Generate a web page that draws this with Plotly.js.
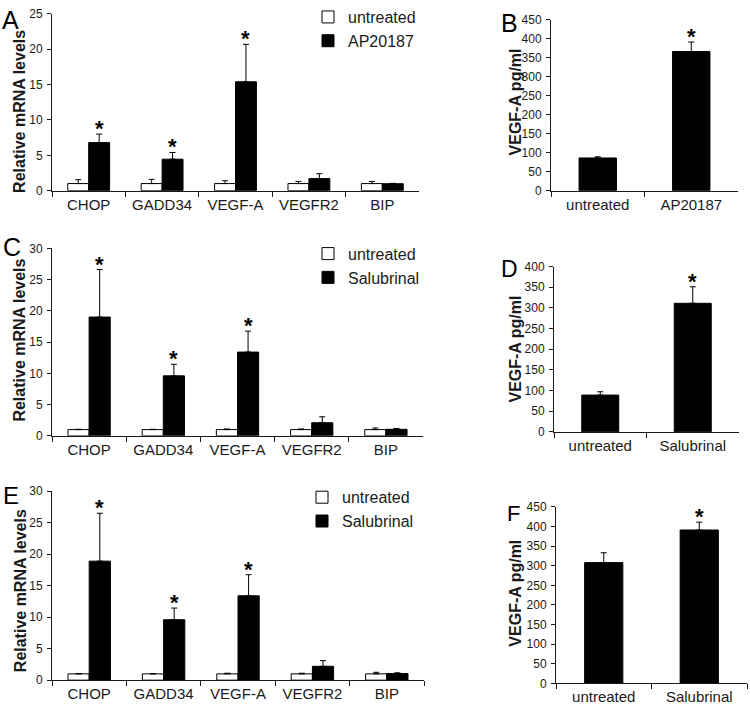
<!DOCTYPE html>
<html>
<head>
<meta charset="utf-8">
<script src="https://cdn.plot.ly/plotly-3.0.1.min.js"></script>
<style>html,body{margin:0;padding:0;background:#fff;}#chart{width:750px;height:710px;}</style>
</head>
<body>
<div id="chart"></div>
<script>
// ---------- DATA ----------
const mrnaCategories = ['CHOP', 'GADD34', 'VEGF-A', 'VEGFR2', 'BIP'];

// Panel A (AP20187)
const A_untreated     = [1, 1, 1, 1, 1];
const A_untreatedErr  = [0.55, 0.6, 0.4, 0.3, 0.3];
const A_treated       = [6.8, 4.45, 15.4, 1.7, 0.98];
const A_treatedErr    = [1.2, 0.95, 5.3, 0.7, 0.05];
const A_significant   = [true, true, true, false, false];

// Panel C (Salubrinal)
const C_untreated     = [1, 1, 1, 1, 1];
const C_untreatedErr  = [0.05, 0.05, 0.1, 0.1, 0.25];
const C_treated       = [19, 9.6, 13.4, 2.1, 1.05];
const C_treatedErr    = [7.6, 1.85, 3.35, 0.95, 0.12];
const C_significant   = [true, true, true, false, false];

// Panel E (Salubrinal)
const E_untreated     = [1, 1, 1, 1, 1];
const E_untreatedErr  = [0.05, 0.05, 0.1, 0.1, 0.25];
const E_treated       = [18.9, 9.6, 13.4, 2.2, 1.05];
const E_treatedErr    = [7.6, 1.85, 3.35, 0.9, 0.12];
const E_significant   = [true, true, true, false, false];

// Panels B, D, F (VEGF-A protein)
const B_categories = ['untreated', 'AP20187'];
const B_values     = [86, 366];
const B_errors     = [3, 25];
const B_significant = [false, true];

const D_categories = ['untreated', 'Salubrinal'];
const D_values     = [89, 311];
const D_errors     = [8, 40];
const D_significant = [false, true];

const F_categories = ['untreated', 'Salubrinal'];
const F_values     = [308, 391];
const F_errors     = [25, 20];
const F_significant = [false, true];

const treatmentNames = {A: 'AP20187', C: 'Salubrinal', E: 'Salubrinal'};
const mrnaTitle = 'Relative mRNA levels';
const elisaTitle = 'VEGF-A pg/ml';

// ---------- LAYOUT HELPERS ----------
const W = 750, H = 710;
const FONT = 'Liberation Sans, Arial, Helvetica, sans-serif';
const INK = '#1a1a1a';
const BARGAP = 0.43;
const px = p => p / W;
const py = p => 1 - p / H;

const traces = [];
const annotations = [];
const layout = {
  width: W, height: H,
  margin: {l: 0, r: 0, t: 0, b: 0},
  paper_bgcolor: '#fff', plot_bgcolor: '#fff',
  font: {family: FONT, color: INK},
  barmode: 'group', bargap: BARGAP, bargroupgap: 0,
  showlegend: true,
  annotations: annotations
};

function zeros(n) { return new Array(n).fill(0); }

function axisPair(idx, xdom, ydom, yrange, dtick, tickFont) {
  const xk = idx === 1 ? 'xaxis' : 'xaxis' + idx;
  const yk = idx === 1 ? 'yaxis' : 'yaxis' + idx;
  const xr = idx === 1 ? 'x' : 'x' + idx;
  const yr = idx === 1 ? 'y' : 'y' + idx;
  layout[xk] = {
    domain: [px(xdom[0]), px(xdom[1])], anchor: yr, type: 'category',
    showline: true, linecolor: INK, linewidth: 1,
    ticks: 'outside', tickson: 'boundaries', ticklen: 5, tickcolor: INK, tickwidth: 1,
    showgrid: false, zeroline: false, automargin: false, fixedrange: true,
    tickfont: {size: tickFont, color: INK, family: FONT}
  };
  layout[yk] = {
    domain: [py(ydom[1]), py(ydom[0])], anchor: xr, range: yrange, dtick: dtick, tick0: 0,
    showline: true, linecolor: INK, linewidth: 1,
    ticks: 'outside', ticklen: 4, tickcolor: INK, tickwidth: 1, ticklabelstandoff: 2,
    showgrid: false, zeroline: false, automargin: false, fixedrange: true,
    tickfont: {size: 12, color: INK, family: FONT}
  };
  return {xr, yr};
}

// rotated y-axis title placed beside the axis
function yTitle(text, cx, cy) {
  annotations.push({
    text: text, xref: 'paper', yref: 'paper', x: px(cx), y: py(cy),
    xanchor: 'center', yanchor: 'middle', textangle: -90, showarrow: false,
    font: {size: 16, weight: 'bold', family: FONT, color: INK}
  });
}

function letter(text, x, y, size) {
  annotations.push({
    text: text, xref: 'paper', yref: 'paper', x: px(x), y: py(y),
    xanchor: 'left', yanchor: 'top', showarrow: false,
    font: {size: size, family: FONT, color: '#000'}
  });
}

function star(xref, yref, x, y) {
  annotations.push({
    text: '<b>*</b>', xref: xref, yref: yref, x: x, y: y,
    xanchor: 'center', yanchor: 'bottom', yshift: -9, showarrow: false,
    font: {size: 22, family: FONT, color: '#000'}
  });
}

function mrnaPanel(idx, key, xdom, ydom, yrange, untr, untrErr, trt, trtErr, sig, legendPos) {
  const {xr, yr} = axisPair(idx, xdom, ydom, yrange, 5, 15);
  const lg = idx === 1 ? 'legend' : 'legend' + idx;
  traces.push({
    type: 'bar', x: mrnaCategories, y: untr, name: 'untreated', xaxis: xr, yaxis: yr,
    legend: lg, showlegend: true,
    marker: {color: '#fff', line: {color: '#000', width: 1}},
    error_y: {type: 'data', array: untrErr, arrayminus: zeros(untrErr.length), symmetric: false,
              color: '#000', thickness: 1, width: 3},
    hoverinfo: 'skip'
  });
  traces.push({
    type: 'bar', x: mrnaCategories, y: trt, name: treatmentNames[key], xaxis: xr, yaxis: yr,
    legend: lg, showlegend: true,
    marker: {color: '#000', line: {color: '#000', width: 1}},
    error_y: {type: 'data', array: trtErr, arrayminus: zeros(trtErr.length), symmetric: false,
              color: '#000', thickness: 1, width: 3},
    hoverinfo: 'skip'
  });
  layout[lg] = {
    x: px(legendPos[0]), y: py(legendPos[1]), xanchor: 'left', yanchor: 'top',
    xref: 'paper', yref: 'paper', bgcolor: 'rgba(0,0,0,0)', borderwidth: 0,
    font: {size: 16, family: FONT, color: INK}, tracegroupgap: 0, traceorder: 'normal',
    itemwidth: 30
  };
  const barW = (1 - BARGAP) / 2;
  sig.forEach((s, i) => { if (s) star(xr, yr, i + barW / 2, trt[i] + trtErr[i]); });
}

function elisaPanel(idx, xdom, ydom, yrange, cats, vals, errs, sig) {
  const {xr, yr} = axisPair(idx, xdom, ydom, yrange, 50, 15);
  traces.push({
    type: 'bar', x: cats, y: vals, xaxis: xr, yaxis: yr, width: 0.4, showlegend: false,
    marker: {color: '#000', line: {color: '#000', width: 1}},
    error_y: {type: 'data', array: errs, arrayminus: zeros(errs.length), symmetric: false,
              color: '#000', thickness: 1, width: 3},
    hoverinfo: 'skip'
  });
  sig.forEach((s, i) => { if (s) star(xr, yr, i, vals[i] + errs[i]); });
}

// Panels
mrnaPanel(1, 'A', [52, 419], [10, 187.7], [0, 25], A_untreated, A_untreatedErr, A_treated, A_treatedErr, A_significant, [308, -4]);
elisaPanel(2, [551, 738], [15.7, 187.7], [0, 450], B_categories, B_values, B_errors, B_significant);
mrnaPanel(3, 'C', [52, 423], [245.7, 434.3], [0, 30], C_untreated, C_untreatedErr, C_treated, C_treatedErr, C_significant, [308, 234]);
elisaPanel(4, [554, 739], [264, 430.3], [0, 400], D_categories, D_values, D_errors, D_significant);
mrnaPanel(5, 'E', [52, 424], [490, 680], [0, 30], E_untreated, E_untreatedErr, E_treated, E_treatedErr, E_significant, [302, 479]);
elisaPanel(6, [556, 747], [505.7, 683.3], [0, 450], F_categories, F_values, F_errors, F_significant);

yTitle(mrnaTitle, 20, 108.5);
yTitle(mrnaTitle, 20, 338.5);
yTitle(mrnaTitle, 20, 590.5);
yTitle(elisaTitle, 515, 99);
yTitle(elisaTitle, 516, 347.5);
yTitle(elisaTitle, 516, 593);

letter('A', 0, 0, 25);
letter('B', 499, 3, 25);
letter('C', 1, 228, 25);
letter('D', 499, 251, 23);
letter('E', 1, 479, 24);
letter('F', 505, 498, 22);

Plotly.newPlot('chart', traces, layout, {staticPlot: true, displayModeBar: false});
</script>
</body>
</html>
